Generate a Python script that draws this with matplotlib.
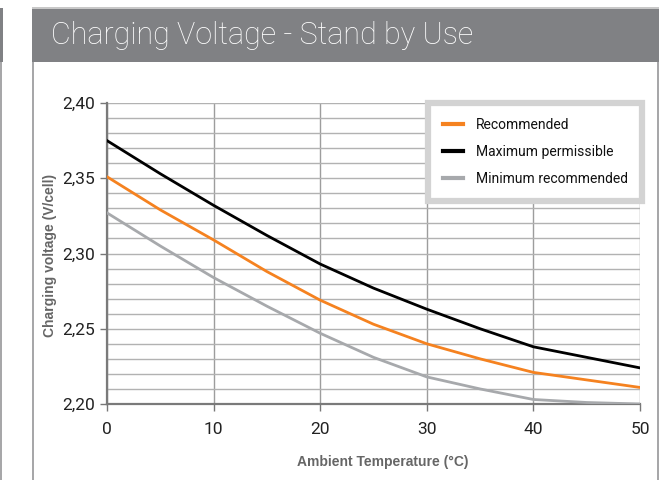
import matplotlib
matplotlib.use("Agg")
import matplotlib.pyplot as plt
from matplotlib.patches import Rectangle
from matplotlib.ticker import MultipleLocator

# Values
temperature = [0, 5, 10, 15, 20, 25, 30, 35, 40, 45, 50]
recommended = [2.351, 2.329, 2.309, 2.288, 2.269, 2.253, 2.240, 2.230, 2.221, 2.216, 2.211]
maximum = [2.375, 2.353, 2.332, 2.312, 2.293, 2.277, 2.263, 2.250, 2.238, 2.231, 2.224]
minimum = [2.327, 2.305, 2.284, 2.265, 2.247, 2.231, 2.218, 2.210, 2.203, 2.201, 2.200]

x_ticks = [0, 10, 20, 30, 40, 50]
y_ticks = [2.20, 2.25, 2.30, 2.35, 2.40]
y_tick_labels = ["2,20", "2,25", "2,30", "2,35", "2,40"]

title = "Charging Voltage - Stand by Use"
x_label = "Ambient Temperature (°C)"
y_label = "Charging voltage (V/cell)"

W, H = 668, 480
plt.rcParams["font.family"] = ["Roboto", "DejaVu Sans"]

fig = plt.figure(figsize=(W / 100, H / 100), dpi=100)


def box(x0, y0, x1, y1, **kw):
    # rectangle in pixel coords (y from top)
    r = Rectangle((x0 / W, 1 - y1 / H), (x1 - x0) / W, (y1 - y0) / H,
                  transform=fig.transFigure, **kw)
    fig.add_artist(r)


header_col = "#808184"
# partial neighbour panel at the left edge
box(0, 8, 2.5, 62, facecolor=header_col, edgecolor="none")
box(0, 62, 2, 480, facecolor="#a7a7a9", edgecolor="none")
# main panel
box(32, 8, 659, 62, facecolor=header_col, edgecolor="none")
box(32, 7, 659, 8.5, facecolor="#c8c8c8", edgecolor="none")
box(32, 62, 34, 480, facecolor="#a7a7a9", edgecolor="none")
box(657, 62, 659, 480, facecolor="#a7a7a9", edgecolor="none")

fig.text(51 / W, 1 - 36 / H, title, color="white", fontsize=22,
         fontweight="light", va="center", ha="left")

ax = fig.add_axes([107 / W, 1 - 404 / H, (640 - 107) / W, (404 - 103) / H])

ax.plot(temperature, recommended, color="#f58220", lw=2, label="Recommended", zorder=3)
ax.plot(temperature, maximum, color="#000000", lw=2, label="Maximum permissible", zorder=3)
ax.plot(temperature, minimum, color="#a7a9ac", lw=2, label="Minimum recommended", zorder=3)

ax.set_xlim(0, 50)
ax.set_ylim(2.20, 2.40)
ax.set_xticks(x_ticks)
ax.set_yticks(y_ticks)
ax.set_yticklabels(y_tick_labels)
ax.yaxis.set_minor_locator(MultipleLocator(0.01))
ax.tick_params(axis="y", which="minor", length=0)
ax.tick_params(axis="both", which="major", length=5, width=1, color="#777777",
               labelsize=12.5, labelcolor="#222222", direction="out")
ax.tick_params(axis="x", pad=8)
ax.tick_params(axis="y", pad=4)

ax.grid(True, axis="x", which="major", color="#9d9d9d", lw=1)
ax.grid(True, axis="y", which="both", color="#b2b2b2", lw=1)
ax.set_axisbelow(True)

for s in ["top", "right"]:
    ax.spines[s].set_visible(False)
for s in ["left", "bottom"]:
    ax.spines[s].set_color("#7a7a7a")
    ax.spines[s].set_linewidth(1.6)

ax.set_xlabel(x_label, fontsize=10, fontweight="bold", color="#666666",
              family=["Liberation Sans", "DejaVu Sans"])
ax.set_ylabel(y_label, fontsize=10, fontweight="bold", color="#666666",
              family=["Liberation Sans", "DejaVu Sans"])
ax.xaxis.set_label_coords((383 - 107) / 533, -(455 - 404) / 301)
ax.yaxis.set_label_coords(-(107 - 57) / 533, (404 - 255) / 301)

leg = ax.legend(loc="upper right", bbox_to_anchor=(1.004, 1.0), fontsize=10,
                frameon=True, fancybox=False, framealpha=1, edgecolor="#d3d3d3",
                handlelength=1.45, handletextpad=0.9, labelspacing=0.95,
                borderpad=1.05, borderaxespad=0)
leg.get_frame().set_linewidth(4.5)
for h in leg.get_lines():
    h.set_linewidth(3)
for t in leg.get_texts():
    t.set_color("#111111")
leg.set_zorder(5)

fig.savefig("out.png", dpi=100)
